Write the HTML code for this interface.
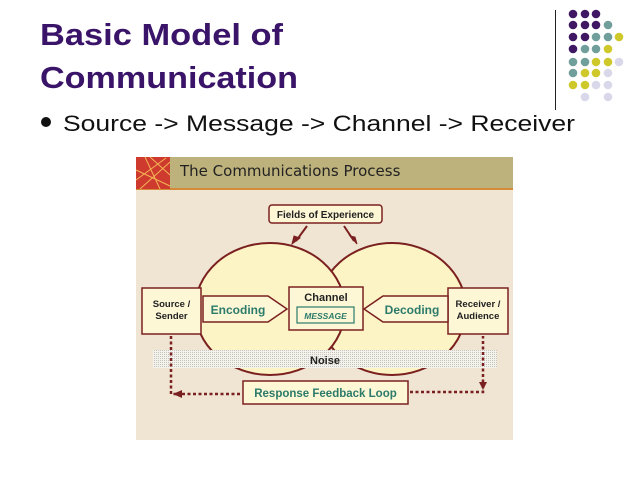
<!DOCTYPE html>
<html><head><meta charset="utf-8"><style>
html,body{margin:0;padding:0;background:#fff;}
svg{display:block;font-family:"Liberation Sans",Arial,sans-serif;}
</style></head><body>
<svg width="638" height="479" viewBox="0 0 638 479" xmlns="http://www.w3.org/2000/svg">
<defs>
<pattern id="dots" width="2" height="2" patternUnits="userSpaceOnUse"><rect width="2" height="2" fill="#f4f2ec"/><rect width="1" height="1" fill="#c8c4bc"/></pattern>
</defs>
<rect width="638" height="479" fill="#fff"/>
<text x="40" y="45" font-size="31" font-weight="bold" fill="#3a1468" textLength="243" lengthAdjust="spacingAndGlyphs">Basic Model of</text>
<text x="40" y="88" font-size="31" font-weight="bold" fill="#3a1468" textLength="258" lengthAdjust="spacingAndGlyphs">Communication</text>
<circle cx="46" cy="122" r="5" fill="#111"/>
<text x="63" y="131" font-size="22" fill="#111" textLength="512" lengthAdjust="spacingAndGlyphs">Source -&gt; Message -&gt; Channel -&gt; Receiver</text>
<line x1="555.5" y1="10" x2="555.5" y2="110" stroke="#222" stroke-width="1"/>
<g>
<circle cx="573" cy="14" r="4.3" fill="#3f1763"/><circle cx="585" cy="14" r="4.3" fill="#3f1763"/><circle cx="596" cy="14" r="4.3" fill="#3f1763"/>
<circle cx="573" cy="25" r="4.3" fill="#3f1763"/><circle cx="585" cy="25" r="4.3" fill="#3f1763"/><circle cx="596" cy="25" r="4.3" fill="#3f1763"/><circle cx="608" cy="25" r="4.3" fill="#6f9e9b"/>
<circle cx="573" cy="37" r="4.3" fill="#3f1763"/><circle cx="585" cy="37" r="4.3" fill="#3f1763"/><circle cx="596" cy="37" r="4.3" fill="#6f9e9b"/><circle cx="608" cy="37" r="4.3" fill="#6f9e9b"/><circle cx="619" cy="37" r="4.3" fill="#cfc82a"/>
<circle cx="573" cy="49" r="4.3" fill="#3f1763"/><circle cx="585" cy="49" r="4.3" fill="#6f9e9b"/><circle cx="596" cy="49" r="4.3" fill="#6f9e9b"/><circle cx="608" cy="49" r="4.3" fill="#cfc82a"/>
<circle cx="573" cy="62" r="4.3" fill="#6f9e9b"/><circle cx="585" cy="62" r="4.3" fill="#6f9e9b"/><circle cx="596" cy="62" r="4.3" fill="#cfc82a"/><circle cx="608" cy="62" r="4.3" fill="#cfc82a"/><circle cx="619" cy="62" r="4.3" fill="#d8d8ea"/>
<circle cx="573" cy="73" r="4.3" fill="#6f9e9b"/><circle cx="585" cy="73" r="4.3" fill="#cfc82a"/><circle cx="596" cy="73" r="4.3" fill="#cfc82a"/><circle cx="608" cy="73" r="4.3" fill="#d8d8ea"/>
<circle cx="573" cy="85" r="4.3" fill="#cfc82a"/><circle cx="585" cy="85" r="4.3" fill="#cfc82a"/><circle cx="596" cy="85" r="4.3" fill="#d8d8ea"/><circle cx="608" cy="85" r="4.3" fill="#d8d8ea"/>
<circle cx="585" cy="97" r="4.3" fill="#d8d8ea"/><circle cx="608" cy="97" r="4.3" fill="#d8d8ea"/>
</g>
<rect x="136" y="157" width="377" height="283" fill="#efe5d2"/>
<rect x="136" y="157" width="377" height="32" fill="#bdb27b"/>
<rect x="136" y="188" width="377" height="2" fill="#d58a3a"/>
<rect x="136" y="157" width="34" height="32" fill="#cf3a2e"/>
<g stroke="#f3b455" stroke-width="1" fill="none">
<path d="M136 170 L170 186 M136 180 L166 158 M150 157 L170 175 M140 189 L170 162 M160 189 L145 157"/>
</g>
<text x="180" y="176" font-size="15" fill="#222" font-family="DejaVu Sans, sans-serif">The Communications Process</text>
<rect x="269" y="205" width="113" height="18" rx="3" fill="#fdf7d6" stroke="#7b2020" stroke-width="1.5"/>
<text x="325.5" y="218" font-size="10" font-weight="bold" text-anchor="middle" fill="#222">Fields of Experience</text>
<ellipse cx="392" cy="309" rx="74" ry="66" fill="#fcf4c4" stroke="#7b2020" stroke-width="2"/>
<ellipse cx="270" cy="309" rx="75" ry="66" fill="#fcf4c4" stroke="#7b2020" stroke-width="2"/>
<path d="M307 226 L296 241" stroke="#7b2020" stroke-width="2"/><path d="M292 244 L300 238 L294 236 Z" fill="#7b2020" stroke="#7b2020"/>
<path d="M344 226 L354 241" stroke="#7b2020" stroke-width="2"/><path d="M357 244 L350 236 L355 237 Z" fill="#7b2020" stroke="#7b2020"/>
<rect x="153" y="350" width="344" height="18" fill="url(#dots)"/>
<text x="325" y="364" font-size="11" font-weight="bold" text-anchor="middle" fill="#222">Noise</text>
<rect x="142" y="288" width="59" height="46" fill="#fdf7d6" stroke="#7b2020" stroke-width="1.5"/>
<text x="171.5" y="307" font-size="9.5" font-weight="bold" text-anchor="middle" fill="#222">Source /</text>
<text x="171.5" y="319" font-size="9.5" font-weight="bold" text-anchor="middle" fill="#222">Sender</text>
<rect x="448" y="288" width="60" height="46" fill="#fdf7d6" stroke="#7b2020" stroke-width="1.5"/>
<text x="478" y="307" font-size="9.5" font-weight="bold" text-anchor="middle" fill="#222">Receiver /</text>
<text x="478" y="319" font-size="9.5" font-weight="bold" text-anchor="middle" fill="#222">Audience</text>
<path d="M203 296 L268 296 L287 309 L268 322 L203 322 Z" fill="#fdf7d6" stroke="#7b2020" stroke-width="1.5"/>
<text x="238" y="314" font-size="12" font-weight="bold" text-anchor="middle" fill="#2b7a6a">Encoding</text>
<path d="M448 296 L383 296 L364 309 L383 322 L448 322 Z" fill="#fdf7d6" stroke="#7b2020" stroke-width="1.5"/>
<text x="412" y="314" font-size="12" font-weight="bold" text-anchor="middle" fill="#2b7a6a">Decoding</text>
<rect x="289" y="287" width="74" height="43" fill="#fdf7d6" stroke="#7b2020" stroke-width="1.5"/>
<text x="326" y="301" font-size="11" font-weight="bold" text-anchor="middle" fill="#222">Channel</text>
<rect x="297" y="307" width="57" height="16" fill="#fdf7d6" stroke="#2b7a6a" stroke-width="1.2"/>
<text x="325.5" y="319" font-size="8.5" font-weight="bold" font-style="italic" text-anchor="middle" fill="#2b7a6a">MESSAGE</text>
<g stroke="#7b2020" stroke-width="2.5" stroke-dasharray="3 2.5" fill="none">
<path d="M171 336 L171 394 L182 394"/>
<path d="M240 394 L182 394"/>
<path d="M410 392 L483 392 L483 336"/>
</g>
<path d="M173 394 L182 390 L182 398 Z" fill="#7b2020"/>
<path d="M479 382 L487 382 L483 390 Z" fill="#7b2020"/>
<rect x="243" y="381" width="165" height="23" fill="#fdf7d6" stroke="#7b2020" stroke-width="1.5"/>
<text x="325.5" y="397" font-size="11.5" font-weight="bold" text-anchor="middle" fill="#2b7a6a">Response Feedback Loop</text>
</svg>
</body></html>
